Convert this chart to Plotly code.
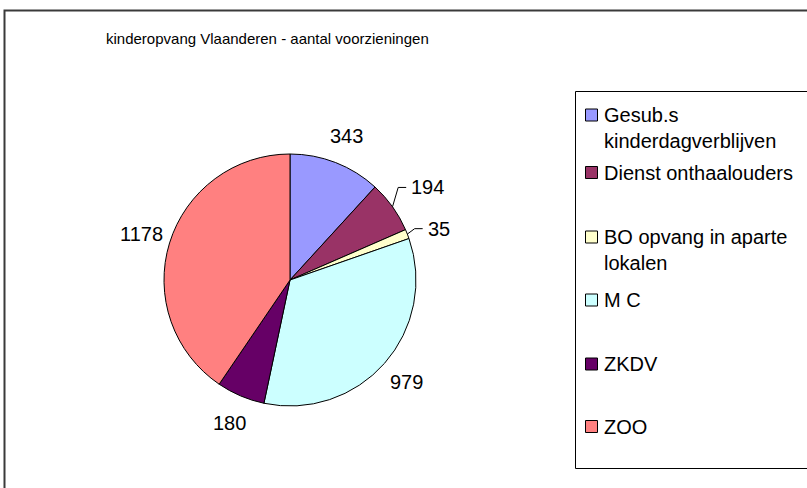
import math
import plotly.graph_objects as go

# ---- data ----
title_text = "kinderopvang Vlaanderen - aantal voorzieningen"
labels = ["Gesub.s kinderdagverblijven", "Dienst onthaalouders",
          "BO opvang in aparte lokalen", "M C", "ZKDV", "ZOO"]
legend_text = ["Gesub.s<br>kinderdagverblijven", "Dienst onthaalouders",
               "BO opvang in aparte<br>lokalen", "M C", "ZKDV", "ZOO"]
values = [343, 194, 35, 979, 180, 1178]
colors = ["#9999FF", "#993366", "#FFFFCC", "#CCFFFF", "#660066", "#FF8080"]

# ---- layout constants (pixels) ----
W, H = 807, 488
CX, CY, R = 290, 280, 126
FONT = "Liberation Sans, Arial, sans-serif"
legend_rows = [115, 172.5, 237, 300, 364, 426.5]
leader = {1: (1.13, -5.0), 2: (1.07, -1.0)}   # slice index -> (radius factor, angle shift)


def px(x):
    return x / W


def py(y):
    return 1 - y / H


fig = go.Figure()
fig.add_trace(go.Pie(
    labels=labels, values=values, sort=False, direction="clockwise", rotation=0,
    marker=dict(colors=colors, line=dict(color="black", width=1)),
    textinfo="none", showlegend=False, hoverinfo="label+value",
    domain=dict(x=[px(CX - R), px(CX + R)], y=[py(CY + R), py(CY - R)]),
))

shapes = []
annotations = []

# chart border and legend box
shapes.append(dict(type="rect", xref="paper", yref="paper",
                   x0=px(4.5), x1=px(W + 50), y0=py(10.5), y1=py(H + 50),
                   line=dict(color="#3a3a3a", width=2), fillcolor="rgba(0,0,0,0)"))
shapes.append(dict(type="rect", xref="paper", yref="paper",
                   x0=px(575.5), x1=px(W + 50), y0=py(91.5), y1=py(468.5),
                   line=dict(color="black", width=1), fillcolor="rgba(0,0,0,0)"))

# title
annotations.append(dict(text=title_text, x=px(267.5), y=py(38), xref="paper", yref="paper",
                        showarrow=False, xanchor="center", yanchor="middle",
                        font=dict(family=FONT, size=15, color="black")))

# data labels
total = sum(values)
cum = 0
for i, v in enumerate(values):
    mid = (cum + v / 2) / total * 360.0
    cum += v
    if i in leader:
        rf, dth = leader[i]
        ex = CX + R * math.sin(math.radians(mid))
        ey = CY - R * math.cos(math.radians(mid))
        bx = CX + rf * R * math.sin(math.radians(mid + dth))
        by = CY - rf * R * math.cos(math.radians(mid + dth))
        hx = bx + 8
        shapes.append(dict(type="path", xref="paper", yref="paper",
                           path=f"M {px(ex)} {py(ey)} L {px(bx)} {py(by)} L {px(hx)} {py(by)}",
                           line=dict(color="black", width=1)))
        annotations.append(dict(text=str(v), x=px(hx + 3), y=py(by), xref="paper", yref="paper",
                                showarrow=False, xanchor="left", yanchor="middle",
                                font=dict(family=FONT, size=20, color="black")))
    else:
        lx = CX + 1.23 * R * math.sin(math.radians(mid))
        ly = CY - 1.23 * R * math.cos(math.radians(mid))
        annotations.append(dict(text=str(v), x=px(lx), y=py(ly), xref="paper", yref="paper",
                                showarrow=False, xanchor="center", yanchor="middle",
                                font=dict(family=FONT, size=20, color="black")))

# legend (manual, Excel-like)
for i, (t, c) in enumerate(zip(legend_text, colors)):
    yc = legend_rows[i]
    shapes.append(dict(type="rect", xref="paper", yref="paper",
                       x0=px(585.5), x1=px(597.5), y0=py(yc - 6), y1=py(yc + 6),
                       line=dict(color="black", width=1), fillcolor=c))
    annotations.append(dict(text=t, x=px(602), y=py(yc - 13), xref="paper", yref="paper",
                            showarrow=False, xanchor="left", yanchor="top", align="left",
                            font=dict(family=FONT, size=20, color="black")))

fig.update_layout(
    width=W, height=H, margin=dict(l=0, r=0, t=0, b=0),
    paper_bgcolor="white", plot_bgcolor="white",
    shapes=shapes, annotations=annotations, showlegend=False,
)
fig.write_html("out.html", config={"displayModeBar": False},
               post_script="document.body.style.margin='0';document.body.style.overflow='hidden';")
